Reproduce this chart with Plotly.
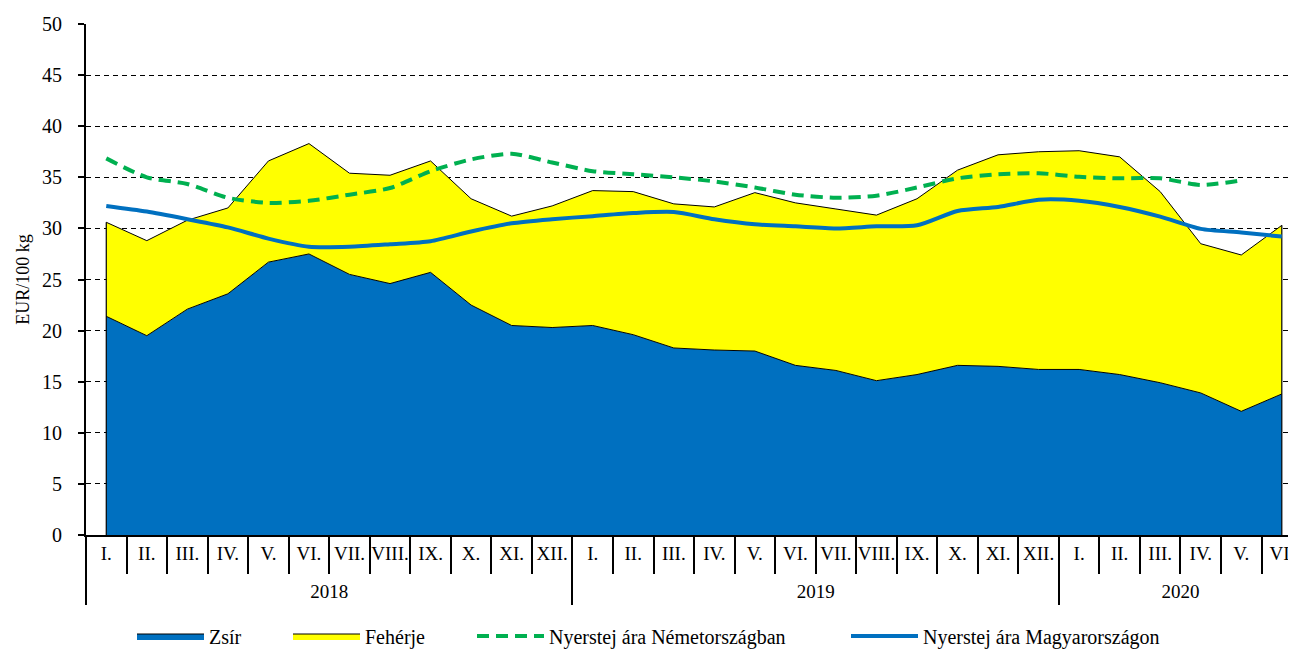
import plotly.graph_objects as go

# ---- data ----
months = ["I.", "II.", "III.", "IV.", "V.", "VI.", "VII.", "VIII.", "IX.", "X.", "XI.", "XII."]
years = ["2018"] * 12 + ["2019"] * 12 + ["2020"] * 6
month_labels = months + months + months[:6]

zsir = [21.4, 19.5, 22.1, 23.6, 26.7, 27.5, 25.5, 24.6, 25.7, 22.5, 20.5, 20.3,
        20.5, 19.6, 18.3, 18.1, 18.0, 16.6, 16.1, 15.1, 15.7, 16.6, 16.5, 16.2,
        16.2, 15.7, 14.9, 13.9, 12.1, 13.8]
feherje = [9.2, 9.3, 8.7, 8.4, 9.9, 10.8, 9.9, 10.6, 10.9, 10.4, 10.7, 11.9,
           13.2, 14.0, 14.1, 14.0, 15.5, 15.9, 15.8, 16.2, 17.2, 19.1, 20.7, 21.3,
           21.4, 21.3, 18.7, 14.6, 15.3, 16.5]
nemet = [36.85, 35.0, 34.35, 33.0, 32.5, 32.7, 33.3, 33.95, 35.6, 36.75, 37.3, 36.45,
         35.6, 35.3, 35.0, 34.6, 34.0, 33.3, 33.0, 33.2, 34.0, 34.9, 35.3, 35.4,
         35.05, 34.9, 34.9, 34.25, 34.7]
magyar = [32.2, 31.65, 30.9, 30.1, 29.0, 28.2, 28.2, 28.45, 28.75, 29.7, 30.5, 30.9,
          31.2, 31.5, 31.6, 30.9, 30.4, 30.2, 30.0, 30.2, 30.3, 31.7, 32.1, 32.8,
          32.7, 32.1, 31.15, 29.95, 29.6, 29.2]

names = ["Zsír", "Fehérje", "Nyerstej ára Németországban", "Nyerstej ára Magyarországon"]

FONT = "Liberation Serif, Times New Roman, serif"
BLUE = "#0070C0"
YELLOW = "#FFFF00"
GREEN = "#00B050"

# page has an 8px body margin: figure is sized to fill the rest of the window
W, H = 1288, 642

# unique category ids (month labels repeat across years)
cat_ids = [f"{y} {m}" for y, m in zip(years, month_labels)]
n_de = len(nemet)

# year groups: centre position (label) and start boundary (divider) from the category index
year_names = list(dict.fromkeys(years))
year_idx = [[i for i, y in enumerate(years) if y == yn] for yn in year_names]
year_centres = [(ix[0] + ix[-1]) / 2 for ix in year_idx]
year_bounds = [ix[0] - 0.5 for ix in year_idx] + [year_idx[-1][-1] + 0.5]

fig = go.Figure()
fig.add_trace(go.Scatter(x=cat_ids, y=zsir, name=names[0], stackgroup="a", mode="lines",
                         line=dict(color="black", width=1), fillcolor=BLUE, legend="legend"))
fig.add_trace(go.Scatter(x=cat_ids, y=feherje, name=names[1], stackgroup="a", mode="lines",
                         line=dict(color="black", width=1), fillcolor=YELLOW, legend="legend2"))
# vertical outline edges of the stacked area (from data ends)
for i in (0, len(zsir) - 1):
    fig.add_trace(go.Scatter(x=[cat_ids[i], cat_ids[i]], y=[0, zsir[i] + feherje[i]], mode="lines",
                             line=dict(color="black", width=1.2), showlegend=False,
                             hoverinfo="skip"))
fig.add_trace(go.Scatter(x=cat_ids[:n_de], y=nemet, name=names[2], mode="lines",
                         line=dict(color=GREEN, width=4, dash="12px,7px", shape="spline", smoothing=0.7),
                         legend="legend3"))
fig.add_trace(go.Scatter(x=cat_ids, y=magyar, name=names[3], mode="lines",
                         line=dict(color=BLUE, width=4, shape="spline", smoothing=0.7),
                         legend="legend4"))
# invisible anchor trace so the year-level axis (x2) is drawn
fig.add_trace(go.Scatter(x=year_centres, y=[0] * len(year_centres), xaxis="x2", yaxis="y",
                         mode="markers", marker=dict(opacity=0), showlegend=False,
                         hoverinfo="skip"))

XR = [-0.5, 29.35]
y_bottom_frac = 70 / 581

fig.update_layout(
    xaxis=dict(type="category", categoryorder="array", categoryarray=cat_ids, range=XR,
               tickmode="array", tickvals=cat_ids, ticktext=month_labels,
               showline=True, linecolor="black", linewidth=2,
               ticks="outside", ticklen=37, tickwidth=2, tickcolor="black",
               tickson="boundaries", tickangle=0, showgrid=False, automargin=False,
               tickfont=dict(family=FONT, size=19, color="black")),
    xaxis2=dict(overlaying="x", anchor="free", position=0, side="bottom", type="linear",
                range=XR, showline=False, showgrid=False, zeroline=False,
                tickmode="array", tickvals=year_centres, ticktext=year_names,
                ticks="", ticklabelposition="inside", automargin=False,
                tickfont=dict(family=FONT, size=19, color="black"),
                minor=dict(tickmode="array", tickvals=year_bounds, ticks="inside", ticklen=70,
                           tickwidth=2, tickcolor="black", showgrid=False)),
    yaxis=dict(domain=[y_bottom_frac, 1], range=[0, 50], dtick=5, showline=True,
               linecolor="black", linewidth=2,
               ticks="outside", ticklen=6, tickwidth=2, tickcolor="black",
               showgrid=True, gridcolor="black", gridwidth=1, griddash="5px,4px",
               zeroline=False, ticklabelstandoff=12, automargin=False,
               tickfont=dict(family=FONT, size=20, color="black"),
               title=dict(text="EUR/100 kg", font=dict(family=FONT, size=18, color="black"),
                          standoff=8)),
)

leg_common = dict(orientation="h", xref="container", yref="container", yanchor="middle",
                  xanchor="left", y=14 / H, itemwidth=67, bgcolor="rgba(0,0,0,0)",
                  font=dict(family=FONT, size=20, color="black"))
fig.update_layout(
    width=W, height=H,
    margin=dict(l=78, r=0, t=16, b=45),
    paper_bgcolor="white", plot_bgcolor="white",
    showlegend=True,
    legend=dict(x=124 / W, **leg_common),
    legend2=dict(x=280 / W, **leg_common),
    legend3=dict(x=464 / W, **leg_common),
    legend4=dict(x=838 / W, **leg_common),
)

fig.write_html("out.html")
